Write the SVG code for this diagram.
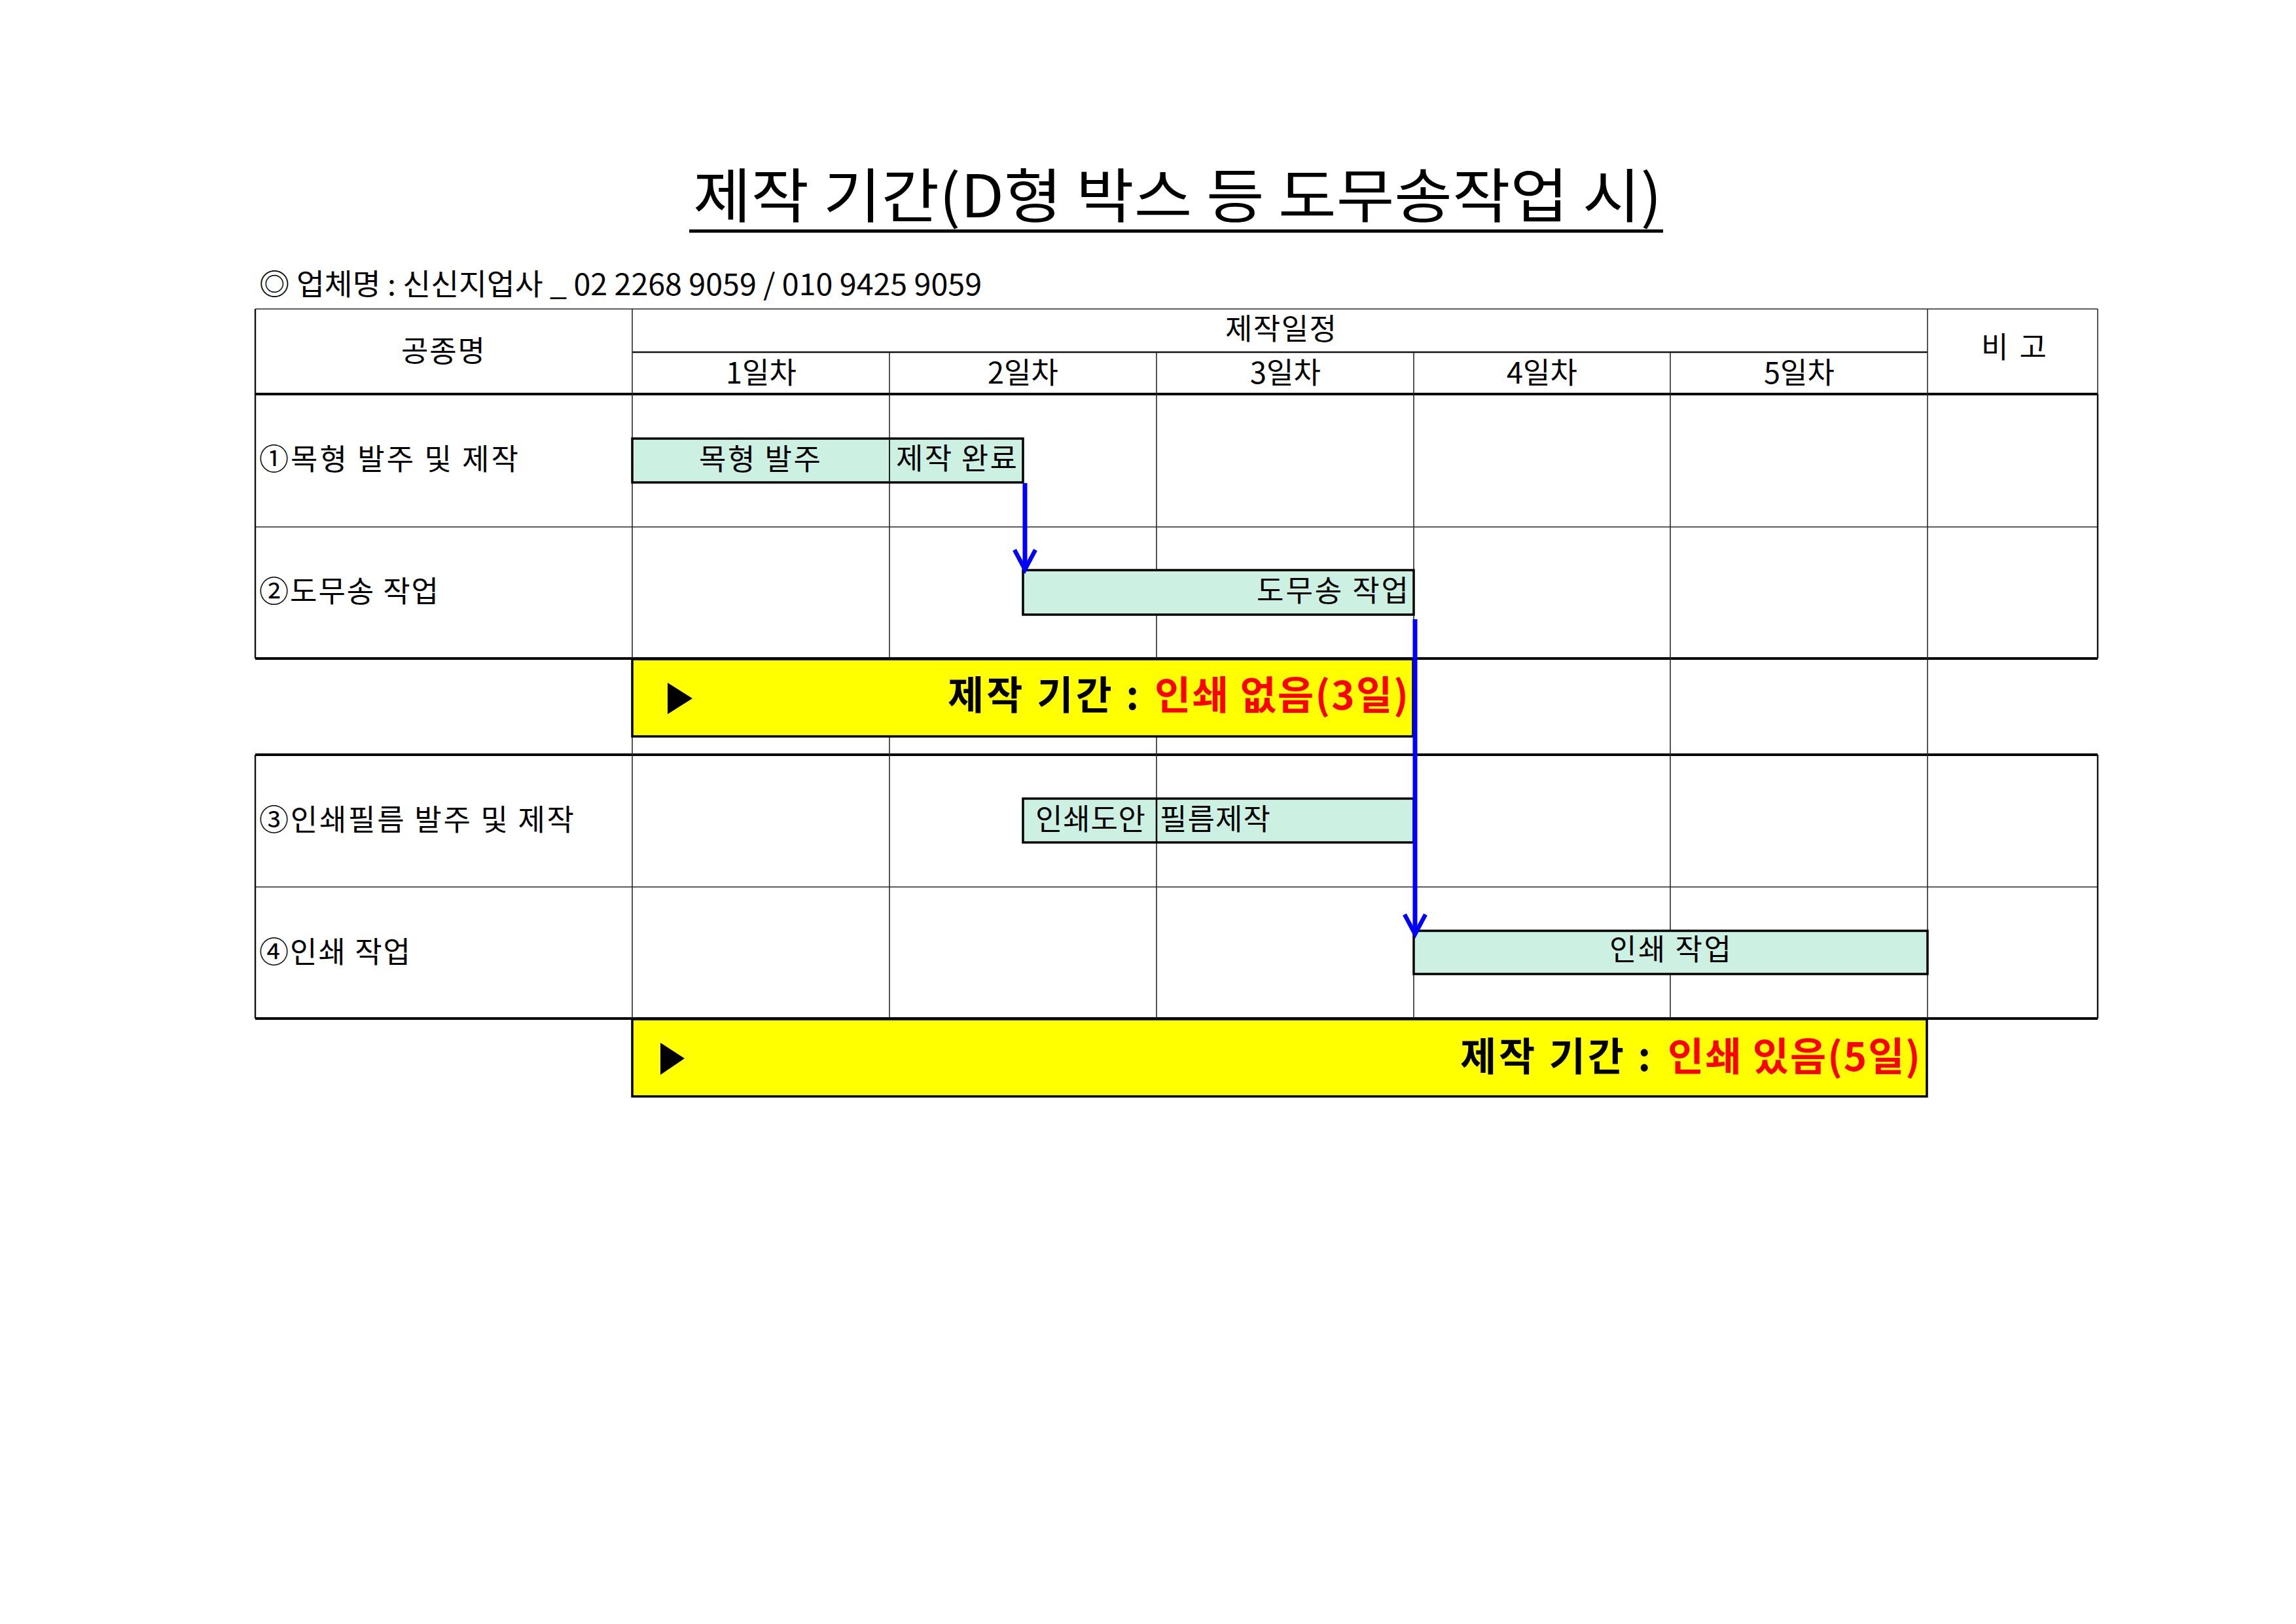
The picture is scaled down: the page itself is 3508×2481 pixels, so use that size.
<svg xmlns="http://www.w3.org/2000/svg" width="3508" height="2481" viewBox="0 0 3508 2481">
<style>
text{font-family:"Noto Sans CJK KR","Noto Sans",sans-serif;fill:#000}
.t{font-size:45px}
.c{text-anchor:middle}
.e{text-anchor:end}
.b{font-weight:bold;font-size:60px}
.red{fill:#FF0000}
.thin{stroke:#2a2a2a;stroke-width:1.6;fill:none}
.med{stroke:#111;stroke-width:2.4;fill:none}
.thick{stroke:#000;stroke-width:4;fill:none}
.bar{fill:#CCF0E1;stroke:#000;stroke-width:3.5}
.yel{fill:#FFFF00;stroke:#000;stroke-width:3.5}
.arr{stroke:#0000FF;stroke-width:7;fill:none;marker-end:url(#chev)}
</style>
<defs>
<marker id="chev" markerUnits="userSpaceOnUse" markerWidth="60" markerHeight="60" refX="0" refY="0" orient="auto" overflow="visible">
<path d="M-30,-16 L0,0 L-30,16" fill="none" stroke="#0000FF" stroke-width="6.5" stroke-linejoin="miter"/>
</marker>
</defs>
<rect width="3508" height="2481" fill="#FFFFFF"/>

<g id="title">
<text x="1059" y="332" style="font-size:90px" textLength="1480" lengthAdjust="spacingAndGlyphs">제작 기간(D형 박스 등 도무송작업 시)</text>
<line x1="1053" y1="353" x2="2541" y2="353" stroke="#000" stroke-width="5"/>
</g>
<g id="subtitle">
<text class="t" x="396" y="451" textLength="1104" lengthAdjust="spacingAndGlyphs">◎ 업체명 : 신신지업사 _ 02 2268 9059 / 010 9425 9059</text>
</g>

<g id="grid">
<line class="thin" x1="390" y1="472" x2="3205" y2="472"/>
<line class="med" x1="966" y1="538" x2="2945" y2="538"/>
<line class="thick" x1="390" y1="602" x2="3205" y2="602"/>
<line class="thin" x1="390" y1="805" x2="3205" y2="805"/>
<line class="thick" x1="390" y1="1006" x2="3205" y2="1006"/>
<line class="thick" x1="390" y1="1153" x2="3205" y2="1153"/>
<line class="thin" x1="390" y1="1355" x2="3205" y2="1355"/>
<line class="thick" x1="390" y1="1556" x2="3205" y2="1556"/>
<line class="med" x1="390" y1="472" x2="390" y2="1006"/>
<line class="med" x1="390" y1="1153" x2="390" y2="1556"/>
<line class="thin" x1="3205" y1="472" x2="3205" y2="602"/>
<line class="med" x1="3205" y1="602" x2="3205" y2="1006"/>
<line class="med" x1="3205" y1="1153" x2="3205" y2="1556"/>
<line class="thin" x1="966" y1="472" x2="966" y2="1556"/>
<line class="thin" x1="1359" y1="538" x2="1359" y2="1556"/>
<line class="thin" x1="1767" y1="538" x2="1767" y2="1556"/>
<line class="thin" x1="2160" y1="538" x2="2160" y2="1556"/>
<line class="thin" x1="2552" y1="538" x2="2552" y2="1556"/>
<line class="thin" x1="2945" y1="472" x2="2945" y2="1556"/>
</g>

<g id="header">
<text class="t c" x="677" y="553" textLength="128">공종명</text>
<text class="t c" x="1957" y="519" textLength="170">제작일정</text>
<text class="t c" x="3077" y="547" textLength="100">비 고</text>
<text class="t c" x="1163" y="586">1일차</text>
<text class="t c" x="1563" y="586">2일차</text>
<text class="t c" x="1964" y="586">3일차</text>
<text class="t c" x="2356" y="586">4일차</text>
<text class="t c" x="2749" y="586">5일차</text>
</g>

<g id="row-labels">
<text class="t" x="396" y="718" textLength="396">①목형 발주 및 제작</text>
<text class="t" x="396" y="920" textLength="274">②도무송 작업</text>
<text class="t" x="396" y="1269" textLength="481">③인쇄필름 발주 및 제작</text>
<text class="t" x="396" y="1471" textLength="231">④인쇄 작업</text>
</g>

<g id="bar-mokhyeong">
<rect class="bar" x="966" y="670" width="597" height="67"/>
<line x1="1359" y1="670" x2="1359" y2="737" stroke="#222" stroke-width="2"/>
<text class="t c" x="1161" y="718" textLength="186">목형 발주</text>
<text class="t" x="1369" y="717" textLength="185">제작 완료</text>
</g>

<g id="bar-domusong">
<rect class="bar" x="1563" y="871" width="597" height="68"/>
<text class="t e" x="2152" y="919" textLength="232">도무송 작업</text>
</g>

<g id="bar-film">
<rect class="bar" x="1563" y="1220" width="597" height="67"/>
<line x1="1767" y1="1220" x2="1767" y2="1287" stroke="#000" stroke-width="2.5"/>
<text class="t c" x="1666" y="1268" textLength="168">인쇄도안</text>
<text class="t" x="1772" y="1268" textLength="169">필름제작</text>
</g>

<g id="bar-print">
<rect class="bar" x="2160" y="1422" width="785" height="66"/>
<text class="t c" x="2552" y="1467" textLength="186">인쇄 작업</text>
</g>

<g id="period-3">
<rect class="yel" x="966" y="1007" width="1193" height="118"/>
<polygon points="1020,1043 1020,1091 1058,1067" fill="#000"/>
<text class="b" x="1448" y="1084" textLength="292">제작 기간 :</text>
<text class="b red" x="1764" y="1084" textLength="388">인쇄 없음(3일)</text>
</g>

<g id="period-5">
<rect class="yel" x="966" y="1557" width="1978" height="118"/>
<polygon points="1009,1593 1009,1642 1046,1617" fill="#000"/>
<text class="b" x="2231" y="1636" textLength="291">제작 기간 :</text>
<text class="b red" x="2548" y="1636" textLength="386">인쇄 있음(5일)</text>
</g>

<g id="connectors">
<line class="arr" x1="1566" y1="738" x2="1566" y2="870"/>
<line class="arr" x1="2162" y1="946" x2="2162" y2="1427"/>
</g>
</svg>
